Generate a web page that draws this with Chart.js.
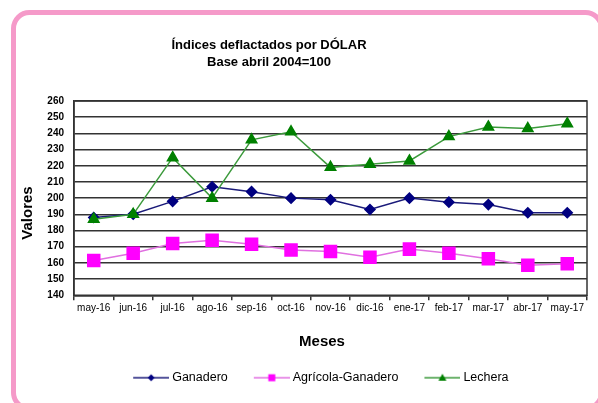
<!DOCTYPE html>
<html>
<head>
<meta charset="utf-8">
<script src="https://cdn.jsdelivr.net/npm/chart.js@4/dist/chart.umd.min.js"></script>
<style>
html,body{margin:0;padding:0;background:#fff;}
#wrap{width:598px;height:403px;position:relative;}
</style>
</head>
<body>
<div id="wrap"><canvas id="c" width="598" height="403"></canvas></div>
<script>
const titleLines = ['Índices deflactados por DÓLAR', 'Base abril 2004=100'];
const yTitle = 'Valores';
const xTitle = 'Meses';
const months = ['may-16','jun-16','jul-16','ago-16','sep-16','oct-16','nov-16','dic-16','ene-17','feb-17','mar-17','abr-17','may-17'];
const seriesNames = ['Ganadero', 'Agrícola-Ganadero', 'Lechera'];
const ganadero = [188, 190, 198, 207, 204, 200, 199, 193, 200, 197.5, 196, 191, 191];
const agricola = [161.5, 166, 172, 174, 171.5, 168, 167, 163.5, 168.5, 166, 162.5, 158.5, 159.5];
const lechera = [187, 190, 225, 200, 236, 241, 219, 221, 223, 238, 244, 243, 246];
const yMin = 140, yMax = 260, yStep = 10;

const FONT = "'Liberation Sans', Arial, sans-serif";

function legendIcon(lineColor, markerColor, shape) {
  const c = document.createElement('canvas');
  c.width = 44; c.height = 12;
  const g = c.getContext('2d');
  g.strokeStyle = lineColor; g.lineWidth = 1.5;
  g.beginPath(); g.moveTo(8, 6); g.lineTo(44, 6); g.stroke();
  g.fillStyle = markerColor;
  g.beginPath();
  const m = 26;
  if (shape === 'diamond') {
    g.moveTo(m, 2.5); g.lineTo(m + 3.5, 6); g.lineTo(m, 9.5); g.lineTo(m - 3.5, 6);
  } else if (shape === 'square') {
    g.rect(m - 3.5, 2.5, 7, 7);
  } else {
    g.moveTo(m, 2); g.lineTo(m + 4, 9); g.lineTo(m - 4, 9);
  }
  g.closePath(); g.fill();
  return c;
}

const icons = [
  legendIcon('#1b1b7a', '#000080', 'diamond'),
  legendIcon('#e070e0', '#ff00ff', 'square'),
  legendIcon('#3c9a3c', '#008000', 'triangle')
];

const decor = {
  id: 'decor',
  afterLayout(chart) {
    const L = chart.legend;
    if (!L) return;
    const dx = 318.5 - (L.left + L.right) / 2;
    const dy = -9;
    L.left += dx; L.right += dx;
    L.top += dy; L.bottom += dy;
  },
  beforeDraw(chart) {
    const ctx = chart.ctx;
    ctx.save();
    ctx.fillStyle = '#ffffff';
    ctx.fillRect(0, 0, chart.width, chart.height);
    ctx.strokeStyle = '#f59ac9';
    ctx.lineWidth = 5;
    ctx.beginPath();
    ctx.roundRect(13.5, 12.5, 588, 396, 16);
    ctx.stroke();
    ctx.restore();
  },
  afterDraw(chart) {
    const ctx = chart.ctx;
    const a = chart.chartArea;
    ctx.save();
    ctx.fillStyle = '#000';
    ctx.textAlign = 'center';
    ctx.textBaseline = 'middle';
    ctx.font = 'bold 13px ' + FONT;
    ctx.fillText(titleLines[0], 269, 45);
    ctx.fillText(titleLines[1], 269, 62);
    ctx.font = 'bold 15px ' + FONT;
    ctx.fillText(xTitle, 322, 342);
    ctx.translate(27.5, 213);
    ctx.rotate(-Math.PI / 2);
    ctx.fillText(yTitle, 0, 0);
    ctx.restore();
    ctx.save();
    ctx.strokeStyle = '#333';
    ctx.lineWidth = 1.5;
    ctx.strokeRect(a.left, a.top, a.right - a.left, a.bottom - a.top);
    ctx.restore();
  }
};

new Chart(document.getElementById('c'), {
  type: 'line',
  data: {
    labels: months,
    datasets: [
      { label: seriesNames[0], data: ganadero, borderColor: '#1b1b7a', backgroundColor: '#000080',
        pointBackgroundColor: '#000080', pointBorderColor: '#000080', pointStyle: 'rectRot',
        pointRadius: 5, borderWidth: 1.5, tension: 0, order: 2 },
      { label: seriesNames[1], data: agricola, borderColor: '#e070e0', backgroundColor: '#ff00ff',
        pointBackgroundColor: '#ff00ff', pointBorderColor: '#ff00ff', pointStyle: 'rect',
        pointRadius: 8.5, borderWidth: 1.5, tension: 0, order: 1 },
      { label: seriesNames[2], data: lechera, borderColor: '#3c9a3c', backgroundColor: '#008000',
        pointBackgroundColor: '#008000', pointBorderColor: '#008000', pointStyle: 'triangle',
        pointRadius: 6, borderWidth: 1.5, tension: 0, order: 0 }
    ]
  },
  options: {
    responsive: false,
    animation: false,
    events: [],
    layout: { padding: { left: 16, right: 11, top: 101, bottom: 0 } },
    plugins: {
      title: { display: false },
      tooltip: { enabled: false },
      legend: {
        position: 'bottom',
        fullSize: false,
        labels: {
          usePointStyle: true,
          pointStyleWidth: 37.5,
          padding: 21.25,
          color: '#000',
          font: { family: FONT, size: 12.5 },
          sort: (a, b) => a.datasetIndex - b.datasetIndex,
          generateLabels(chart) {
            return chart.data.datasets.map((ds, i) => ({
              text: ds.label, datasetIndex: i, pointStyle: icons[i],
              fillStyle: ds.backgroundColor, strokeStyle: ds.borderColor, lineWidth: 0,
              hidden: false, fontColor: '#000'
            }));
          }
        }
      }
    },
    scales: {
      x: {
        type: 'category',
        offset: true,
        afterFit(s) { s.height = 64; },
        grid: { offset: true, drawOnChartArea: false, drawTicks: true, tickLength: 5, color: '#333', lineWidth: 1.5 },
        border: { display: true, color: '#333', width: 1.5 },
        ticks: { color: '#000', font: { family: FONT, size: 10 }, padding: 2, maxRotation: 0, autoSkip: false },
        title: { display: false }
      },
      y: {
        min: yMin, max: yMax,
        afterFit(s) { s.width = 58; },
        grid: { color: '#333', lineWidth: 1.5, drawTicks: false, tickLength: 0 },
        border: { display: true, color: '#333', width: 1.5 },
        ticks: { stepSize: yStep, color: '#000', padding: 10, font: { family: FONT, size: 10, weight: 'bold' } }
      }
    }
  },
  plugins: [decor]
});
</script>
</body>
</html>
